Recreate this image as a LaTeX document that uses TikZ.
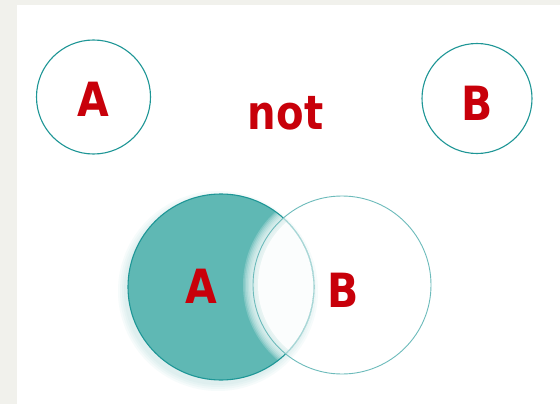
\documentclass[tikz,border=0pt]{standalone}
\usepackage{fontspec}
\usepackage{graphicx}
\setmainfont{DejaVu Sans}
\definecolor{tealline}{HTML}{1E9696}
\definecolor{tealfill}{HTML}{5FB8B4}
\definecolor{redtxt}{HTML}{C8000A}
\definecolor{margin}{HTML}{F1F1EC}
\tikzset{
  lbl/.style={text=redtxt, font=\bfseries\fontsize{41}{44}\selectfont, inner sep=0pt},
  ring/.style={draw=tealline, line width=1.1pt},
}
\newcommand{\tall}[1]{\scalebox{1.0}[1.15]{#1}}
\begin{document}
\begin{tikzpicture}[x=1pt,y=-1pt]
\useasboundingbox (0,0) rectangle (560,404);
\fill[margin] (0,0) rectangle (560,404);
\fill[white] (17,5) rectangle (560,404);
% top circles
\node[ring, circle, minimum size=114pt] (ca) at (93.5,97) {};
\node[ring, circle, minimum size=110pt] (cb) at (477,98.5) {};
\node[lbl] (la) at (93,99) {\tall{A}};
\node[lbl] (lb) at (477.5,103) {\tall{B}};
\node[lbl] (nt) at (285.5,113) {\scalebox{0.98}[1.15]{not}};
% bottom venn: soft glow around A
\foreach \r in {100,98,96,94} {
  \fill[tealfill, opacity=0.05] (218,291) circle (\r);
}
\begin{scope}
  \clip (221,287) circle (93);
  \fill[tealfill] (221,287) circle (93);
  \foreach \r in {99,97.5,96,94.5,93,91.5,90,88.5,87,85.5} {
    \fill[white, opacity=0.2] (342,285) circle (\r);
  }
  \fill[white] (342,285) circle (84);
  \fill[tealfill, opacity=0.02] (342,285) circle (89);
\end{scope}
\node[ring, circle, minimum size=186pt] (va) at (221,287) {};
\node[circle, draw=tealline!65, line width=0.9pt, minimum size=178pt] (vb) at (342,285) {};
\begin{scope}
  \clip (342,285) circle (88.5);
  \draw[white, opacity=0.6, line width=1.5pt] (221,287) circle (93);
\end{scope}
\node[lbl] (va2) at (201,286) {\tall{A}};
\node[lbl] (vb2) at (343,290) {\tall{B}};
\end{tikzpicture}
\end{document}
